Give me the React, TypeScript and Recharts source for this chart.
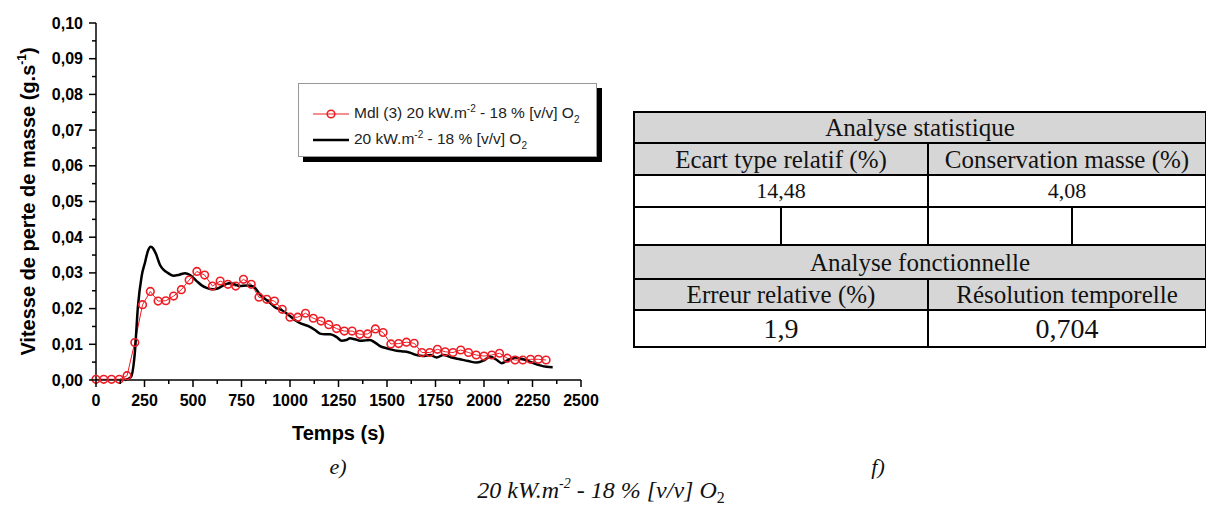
import React from "react";
import { LineChart, Line, XAxis, YAxis, Legend, Label } from "recharts";

// model (Mdl 3) - red circles, one point every 40 s
const mdlTimes = [
  0, 40, 80, 120, 160, 200, 240, 280, 320, 360, 400, 440, 480, 520, 560, 600, 640, 680, 720, 760,
  800, 840, 880, 920, 960, 1000, 1040, 1080, 1120, 1160, 1200, 1240, 1280, 1320, 1360, 1400, 1440,
  1480, 1520, 1560, 1600, 1640, 1680, 1720, 1760, 1800, 1840, 1880, 1920, 1960, 2000, 2040, 2080,
  2120, 2160, 2200, 2240, 2280, 2320,
];
const mdlValues = [
  0.0002, 0.0002, 0.0002, 0.0002, 0.0012, 0.0105, 0.0211, 0.0248, 0.0221, 0.0222, 0.0235, 0.0253,
  0.028, 0.0304, 0.0294, 0.0263, 0.0277, 0.0268, 0.0263, 0.0282, 0.0268, 0.0232, 0.0226, 0.0221,
  0.0198, 0.0176, 0.0176, 0.0187, 0.0173, 0.0165, 0.0155, 0.0144, 0.0137, 0.0137, 0.0128, 0.0129,
  0.0143, 0.0133, 0.0101, 0.0102, 0.0106, 0.0103, 0.0077, 0.0077, 0.0086, 0.0079, 0.0077, 0.0084,
  0.0077, 0.007, 0.0067, 0.007, 0.0075, 0.0061, 0.0056, 0.0056, 0.0058, 0.0058, 0.0056,
];

// experiment - black line
const expTimes = [
  150, 180, 200, 216, 235, 253, 268, 282, 295, 310, 330, 350, 370, 400, 430, 459, 485, 519, 545,
  570, 605, 630, 660, 690, 715, 740, 776, 811, 845, 870, 900, 922, 956, 1000, 1025, 1052, 1095,
  1129, 1155, 1180, 1206, 1241, 1266, 1290, 1309, 1335, 1361, 1390, 1412, 1440, 1464, 1498, 1525,
  1550, 1580, 1601, 1636, 1653, 1687, 1722, 1756, 1790, 1833, 1876, 1919, 1962, 1997, 2031, 2066,
  2091, 2125, 2160, 2203, 2246, 2289, 2323, 2354,
];
const expValues = [
  0, 0.0008, 0.0075, 0.0205, 0.029, 0.033, 0.0362, 0.0373, 0.0368, 0.0352, 0.0322, 0.0308, 0.03,
  0.0292, 0.0295, 0.0299, 0.0294, 0.0277, 0.0265, 0.0258, 0.0254, 0.0257, 0.0266, 0.0272, 0.0268,
  0.0263, 0.0265, 0.0262, 0.024, 0.0228, 0.0215, 0.0204, 0.0196, 0.0179, 0.0168, 0.0159, 0.0151,
  0.014, 0.013, 0.0128, 0.0128, 0.012, 0.011, 0.0112, 0.0117, 0.0114, 0.011, 0.0111, 0.0112,
  0.0104, 0.0095, 0.0089, 0.0085, 0.0082, 0.008, 0.0079, 0.0073, 0.007, 0.0067, 0.007, 0.0063,
  0.007, 0.0063, 0.0058, 0.0053, 0.0049, 0.0054, 0.0065, 0.0056, 0.0047, 0.0056, 0.0063, 0.0058,
  0.0049, 0.0041, 0.0037, 0.0036,
];

const xTicks = [
  0, 125, 250, 375, 500, 625, 750, 875, 1000, 1125, 1250, 1375, 1500, 1625, 1750, 1875, 2000,
  2125, 2250, 2375, 2500,
];
const yTicks = [
  0, 0.005, 0.01, 0.015, 0.02, 0.025, 0.03, 0.035, 0.04, 0.045, 0.05, 0.055, 0.06, 0.065, 0.07,
  0.075, 0.08, 0.085, 0.09, 0.095, 0.1,
];

const mdlData = mdlTimes.map((t, i) => ({ t, v: mdlValues[i] }));
const expData = expTimes.map((t, i) => ({ t, v: expValues[i] }));

const RED = "#ee1c24";
const SANS = "'Liberation Sans', Arial, sans-serif";
const SERIF = "'Liberation Serif', 'Times New Roman', serif";

function YTick(props: any) {
  const { x, y, payload } = props;
  const v = payload.value as number;
  const major = Math.round(v * 1000) % 10 === 0;
  return (
    <g>
      <line x1={x - (major ? 7 : 4)} x2={x} y1={y} y2={y} stroke="#000" strokeWidth={1.5} />
      {major && (
        <text x={x - 13} y={y + 5.5} textAnchor="end" fontFamily={SANS} fontWeight="bold" fontSize={16} fill="#000">
          {v.toFixed(2).replace(".", ",")}
        </text>
      )}
    </g>
  );
}

function XTick(props: any) {
  const { x, y, payload } = props;
  const v = payload.value as number;
  const major = v % 250 === 0;
  return (
    <g>
      <line x1={x} x2={x} y1={y} y2={y + (major ? 7 : 4)} stroke="#000" strokeWidth={1.5} />
      {major && (
        <text x={x} y={y + 26} textAnchor="middle" fontFamily={SANS} fontWeight="bold" fontSize={16} fill="#000">
          {v}
        </text>
      )}
    </g>
  );
}

function YTitle(props: any) {
  const { viewBox } = props;
  const cx = viewBox.x + 35;
  const cy = viewBox.y + viewBox.height / 2;
  return (
    <text
      x={cx}
      y={cy}
      transform={`rotate(-90 ${cx} ${cy})`}
      textAnchor="middle"
      fontFamily={SANS}
      fontWeight="bold"
      fontSize={20}
      fill="#000"
    >
      Vitesse de perte de masse (g.s<tspan dy={-9} fontSize={12}>-1</tspan>
      <tspan dy={9}>)</tspan>
    </text>
  );
}

function XTitle(props: any) {
  const { viewBox } = props;
  return (
    <text
      x={viewBox.x + viewBox.width / 2}
      y={viewBox.y + 60}
      textAnchor="middle"
      fontFamily={SANS}
      fontWeight="bold"
      fontSize={20}
      fill="#000"
    >
      Temps (s)
    </text>
  );
}

const sup = { fontSize: 10, verticalAlign: "top", lineHeight: "10px" } as const;
const sub = { fontSize: 10, verticalAlign: "bottom", lineHeight: "10px", position: "relative", top: 3 } as const;

function LegendBox() {
  return (
    <div
      style={{
        width: 299,
        height: 74,
        boxSizing: "border-box",
        border: "1px solid #999",
        background: "#fff",
        boxShadow: "5px 5px 0 #000",
        fontFamily: SANS,
        fontSize: 15.5,
        color: "#222",
        position: "relative",
      }}
    >
      <svg width={60} height={74} style={{ position: "absolute", left: 0, top: 0 }}>
        <line x1={14} x2={50} y1={30} y2={30} stroke={RED} strokeWidth={1} />
        <circle cx={32} cy={30} r={3.8} stroke={RED} strokeWidth={1.6} fill="none" />
        <line x1={14} x2={50} y1={56} y2={56} stroke="#000" strokeWidth={2.5} />
      </svg>
      <div style={{ position: "absolute", left: 55, top: 20, whiteSpace: "nowrap" }}>
        Mdl (3) 20 kW.m<span style={sup}>-2</span> - 18 % [v/v] O<span style={sub}>2</span>
      </div>
      <div style={{ position: "absolute", left: 55, top: 46, whiteSpace: "nowrap" }}>
        20 kW.m<span style={sup}>-2</span> - 18 % [v/v] O<span style={sub}>2</span>
      </div>
    </div>
  );
}

const GRAY = "#d6d6d6";
const cell = (bg: string, size: number): React.CSSProperties => ({
  background: bg,
  border: "2px solid #000",
  fontFamily: SERIF,
  fontSize: size,
  textAlign: "center",
  padding: 0,
  lineHeight: 1,
  color: "#111",
});

function StatsTable() {
  return (
    <table
      style={{
        position: "absolute",
        left: 633,
        top: 111,
        width: 572,
        borderCollapse: "collapse",
        tableLayout: "fixed",
      }}
    >
      <colgroup>
        <col style={{ width: 147 }} />
        <col style={{ width: 147 }} />
        <col style={{ width: 144 }} />
        <col style={{ width: 134 }} />
      </colgroup>
      <tbody>
        <tr style={{ height: 31 }}>
          <td colSpan={4} style={cell(GRAY, 25)}>Analyse statistique</td>
        </tr>
        <tr style={{ height: 32 }}>
          <td colSpan={2} style={cell(GRAY, 25)}>Ecart type relatif (%)</td>
          <td colSpan={2} style={cell(GRAY, 25)}>Conservation masse (%)</td>
        </tr>
        <tr style={{ height: 32 }}>
          <td colSpan={2} style={cell("#fff", 22)}>14,48</td>
          <td colSpan={2} style={cell("#fff", 22)}>4,08</td>
        </tr>
        <tr style={{ height: 38 }}>
          <td style={cell("#fff", 22)}></td>
          <td style={cell("#fff", 22)}></td>
          <td style={cell("#fff", 22)}></td>
          <td style={cell("#fff", 22)}></td>
        </tr>
        <tr style={{ height: 34 }}>
          <td colSpan={4} style={cell(GRAY, 25)}>Analyse fonctionnelle</td>
        </tr>
        <tr style={{ height: 31 }}>
          <td colSpan={2} style={cell(GRAY, 25)}>Erreur relative (%)</td>
          <td colSpan={2} style={cell(GRAY, 25)}>Résolution temporelle</td>
        </tr>
        <tr style={{ height: 37 }}>
          <td colSpan={2} style={cell("#fff", 28)}>1,9</td>
          <td colSpan={2} style={cell("#fff", 28)}>0,704</td>
        </tr>
      </tbody>
    </table>
  );
}

const captionStyle: React.CSSProperties = {
  position: "absolute",
  transform: "translate(-50%, -50%)",
  fontFamily: SERIF,
  fontStyle: "italic",
  fontSize: 22,
  whiteSpace: "nowrap",
  color: "#111",
};

export default function App() {
  return (
    <div style={{ position: "absolute", left: 0, top: 0, width: 1206, height: 510, background: "#fff" }}>
      <LineChart width={600} height={445} margin={{ top: 23, right: 19, bottom: 0, left: 0 }}>
        <XAxis
          dataKey="t"
          type="number"
          domain={[0, 2500]}
          ticks={xTicks}
          interval={0}
          tickSize={0}
          tickMargin={0}
          tickLine={false}
          tick={<XTick />}
          axisLine={{ stroke: "#000", strokeWidth: 1.5 }}
          height={65}
        >
          <Label content={<XTitle />} />
        </XAxis>
        <YAxis
          type="number"
          domain={[0, 0.1]}
          ticks={yTicks}
          interval={0}
          tickSize={0}
          tickMargin={0}
          tickLine={false}
          tick={<YTick />}
          axisLine={{ stroke: "#000", strokeWidth: 1.5 }}
          width={96}
        >
          <Label content={<YTitle />} />
        </YAxis>
        <Legend
          layout="vertical"
          align="center"
          verticalAlign="middle"
          content={<LegendBox />}
          wrapperStyle={{ left: 298, top: 83, width: 299 }}
        />
        <Line
          data={mdlData}
          dataKey="v"
          name="Mdl (3) 20 kW.m-2 - 18 % [v/v] O2"
          type="linear"
          stroke={RED}
          strokeWidth={1}
          dot={{ r: 3.8, stroke: RED, strokeWidth: 1.6, fill: "none" }}
          isAnimationActive={false}
        />
        <Line
          data={expData}
          dataKey="v"
          name="20 kW.m-2 - 18 % [v/v] O2"
          type="monotone"
          stroke="#000"
          strokeWidth={2.5}
          dot={false}
          isAnimationActive={false}
        />
      </LineChart>
      <StatsTable />
      <div style={{ ...captionStyle, left: 338, top: 467 }}>e)</div>
      <div style={{ ...captionStyle, left: 878, top: 467 }}>f)</div>
      <div style={{ ...captionStyle, left: 601, top: 490, fontSize: 24 }}>
        20 kW.m<span style={{ fontSize: 14, verticalAlign: "top", lineHeight: "14px" }}>-2</span> - 18 % [v/v] O
        <span style={{ fontSize: 16, fontStyle: "normal", position: "relative", top: 5 }}>2</span>
      </div>
    </div>
  );
}
